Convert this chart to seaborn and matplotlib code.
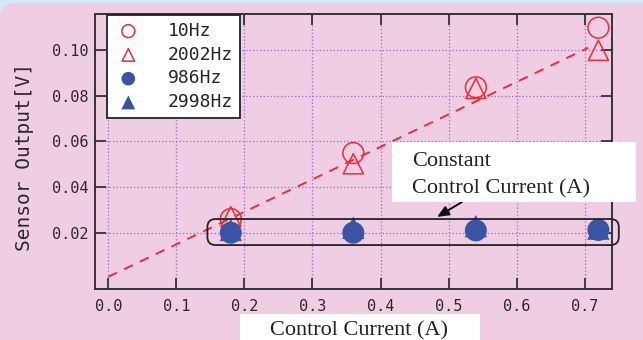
import numpy as np
import pandas as pd
import matplotlib
matplotlib.use("Agg")
import matplotlib.pyplot as plt
import matplotlib.patches as mpatches
import seaborn as sns

# ---------------- data ----------------
control_current = [0.18, 0.36, 0.54, 0.72]
out_10hz = [0.0260, 0.0549, 0.0837, 0.1098]
out_2002hz = [0.0270, 0.0502, 0.0832, 0.0999]
out_986hz = [0.0200, 0.0200, 0.0210, 0.0212]
out_2998hz = [0.0212, 0.0222, 0.0229, 0.0218]
series_labels = ["10Hz", "2002Hz", "986Hz", "2998Hz"]
trend_x = [0.0, 0.705]
trend_y = [0.0007, 0.101]
x_ticks = [0.0, 0.1, 0.2, 0.3, 0.4, 0.5, 0.6, 0.7]
y_ticks = [0.02, 0.04, 0.06, 0.08, 0.10]
x_label = "Control Current (A)"
y_label = "Sensor Output[V]"
note_lines = ["Constant", "Control Current (A)"]

# ---------------- style ----------------
sns.set_style("ticks")
plt.rcParams["font.family"] = ["DejaVu Sans Mono", "DejaVu Sans"]

PINK = "#efcde2"
RED = "#ee2d36"
BLUE = "#3a54a4"
DARK = "#333333"
GRID = "#a27cce"

W, H = 643, 340
fig = plt.figure(figsize=(W / 100, H / 100), dpi=100)
fig.patch.set_facecolor("#d3eaf6")
bg = mpatches.FancyBboxPatch((0, -0.1), 1.1, 1.1 - 3 / H,
                             boxstyle="round,pad=0,rounding_size=0.025",
                             mutation_aspect=W / H, transform=fig.transFigure,
                             facecolor=PINK, edgecolor="none", zorder=-10)
fig.add_artist(bg)

ax = fig.add_axes([95 / W, 1 - 289 / H, (612 - 95) / W, (289 - 14) / H])
ax.set_facecolor(PINK)

df_tr = pd.DataFrame({"x": trend_x, "y": trend_y})
sns.lineplot(data=df_tr, x="x", y="y", ax=ax, color=RED, lw=1.4,
             dashes=False, linestyle=(0, (5, 4)), zorder=2)

def frame(vals):
    return pd.DataFrame({"x": control_current, "y": vals})

sns.scatterplot(data=frame(out_10hz), x="x", y="y", ax=ax, marker="o", s=225,
                facecolor="none", edgecolor=RED, linewidth=1.1,
                label=series_labels[0], zorder=3)
sns.scatterplot(data=frame(out_2002hz), x="x", y="y", ax=ax, marker="^", s=210,
                facecolor="none", edgecolor=RED, linewidth=1.1,
                label=series_labels[1], zorder=3)
sns.scatterplot(data=frame(out_2998hz), x="x", y="y", ax=ax, marker="^", s=260,
                color=BLUE, edgecolor="none", linewidth=0,
                label=series_labels[3], zorder=4)
sns.scatterplot(data=frame(out_986hz), x="x", y="y", ax=ax, marker="o", s=250,
                color=BLUE, edgecolor="none", linewidth=0,
                label=series_labels[2], zorder=5)

ax.set_xlim(-0.0195, 0.740)
ax.set_ylim(-0.00465, 0.1158)
ax.set_xticks(x_ticks)
ax.set_yticks(y_ticks)
ax.set_xticklabels([f"{v:.1f}" for v in x_ticks])
ax.set_yticklabels([f"{v:.2f}" for v in y_ticks])
ax.grid(True, color=GRID, linestyle=(0, (1.2, 1.6)), linewidth=0.9)
ax.set_axisbelow(True)
ax.tick_params(direction="in", length=8, width=1.3, color=DARK,
               top=True, right=True, labelsize=11, labelcolor="#2a2a2a")
ax.tick_params(axis="y", pad=5)
ax.tick_params(axis="x", pad=7)
for sp in ax.spines.values():
    sp.set_color(DARK)
    sp.set_linewidth(1.4)

ax.set_ylabel(y_label, fontsize=14, color="#2a2a2a", va="center")
ax.yaxis.set_label_coords((25 - 95) / (612 - 95), (289 - 157) / (289 - 14))
ax.set_xlabel(x_label, fontsize=16, family="Liberation Serif", color="#222222")
ax.xaxis.set_label_coords((359 - 95) / (612 - 95), (289 - 335) / (289 - 14))
ax.xaxis.label.set_va("baseline")

# white box behind x label
fig.add_artist(mpatches.Rectangle((240 / W, -0.05), 240 / W, 0.05 + 26 / H,
                                  transform=fig.transFigure, facecolor="white",
                                  edgecolor="none", zorder=-5))

# legend
handles, labels = ax.get_legend_handles_labels()
order = [labels.index(l) for l in series_labels]
leg = ax.legend([handles[i] for i in order], [labels[i] for i in order],
                loc="upper left", bbox_to_anchor=(12 / 517, 274 / 275),
                borderaxespad=0, fancybox=False, framealpha=1,
                edgecolor="#222222", markerscale=0.62, fontsize=13,
                labelspacing=0.32, handletextpad=1.4, borderpad=0.38,
                handlelength=1.6)
leg.get_frame().set_linewidth(1.3)

# rounded box around the constant-current points
box = mpatches.FancyBboxPatch((0.1456, 0.0146), 0.75 - 0.1456, 0.0260 - 0.0146,
                              boxstyle="round,pad=0,rounding_size=0.012",
                              mutation_aspect=0.298, transform=ax.transData,
                              facecolor="none", edgecolor="#222222",
                              linewidth=1.3, clip_on=False, zorder=6)
ax.add_patch(box)

# annotation box
fig.add_artist(mpatches.Rectangle((392 / W, 1 - 202 / H), 244 / W, 60 / H,
                                  transform=fig.transFigure, facecolor="white",
                                  edgecolor="none", zorder=7))
fig.text(412 / W, 1 - 166 / H, note_lines[0], family="Liberation Serif",
         fontsize=16, va="baseline", ha="left", color="#222222", zorder=8)
fig.text(412 / W, 1 - 193 / H, note_lines[1], family="Liberation Serif",
         fontsize=16, va="baseline", ha="left", color="#222222", zorder=8)
ax.annotate("", xy=(437, H - 217), xytext=(462, H - 202),
            xycoords="figure pixels", textcoords="figure pixels",
            arrowprops=dict(arrowstyle="-|>,head_length=0.7,head_width=0.3",
                            color="#111111", lw=1.4, shrinkA=0, shrinkB=0),
            zorder=8)

fig.savefig("out.png", dpi=100, facecolor=fig.get_facecolor())
